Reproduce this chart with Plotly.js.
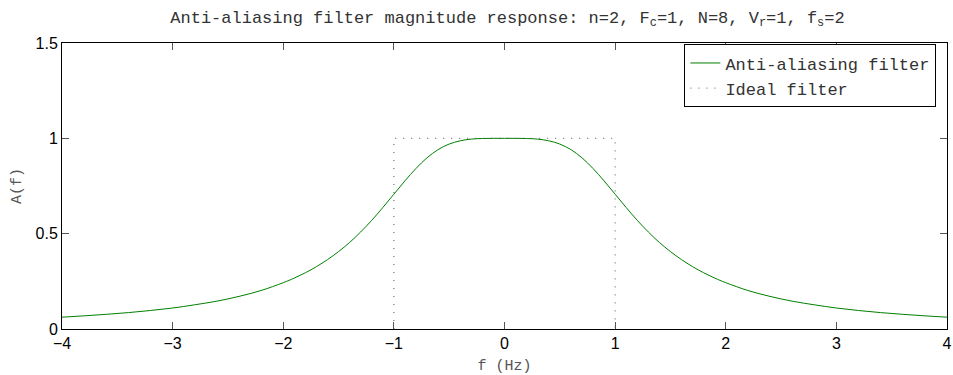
<!DOCTYPE html>
<html>
<head>
<meta charset="utf-8">
<script src="https://cdn.plot.ly/plotly-3.0.1.min.js"></script>
<style>html,body{margin:0;padding:0;background:#fff;}#chart{width:953px;height:375px;}</style>
</head>
<body>
<div id="chart"></div>
<script>
// Frequency points (Hz)
const freq = [-4.0,-3.8,-3.6,-3.4,-3.2,-3.0,-2.8,-2.6,-2.4,-2.2,-2.0,-1.9,-1.8,-1.7,-1.6,-1.5,-1.4,-1.3,-1.2,-1.1,-1.0,-0.9,-0.8,-0.7,-0.6,-0.5,-0.4,-0.3,-0.2,-0.1,0.0,0.1,0.2,0.3,0.4,0.5,0.6,0.7,0.8,0.9,1.0,1.1,1.2,1.3,1.4,1.5,1.6,1.7,1.8,1.9,2.0,2.2,2.4,2.6,2.8,3.0,3.2,3.4,3.6,3.8,4.0];
// Anti-aliasing filter magnitude
const antiAlias = [0.062,0.069,0.077,0.086,0.097,0.110,0.127,0.146,0.171,0.202,0.243,0.267,0.295,0.327,0.364,0.406,0.454,0.509,0.570,0.637,0.707,0.777,0.842,0.898,0.941,0.970,0.987,0.996,0.999,1.000,1.000,1.000,0.999,0.996,0.987,0.970,0.941,0.898,0.842,0.777,0.707,0.637,0.570,0.509,0.454,0.406,0.364,0.327,0.295,0.267,0.243,0.202,0.171,0.146,0.127,0.110,0.097,0.086,0.077,0.069,0.062];
// Ideal filter (passband edges)
const idealF = [-1,-1,1,1];
const idealA = [0,1,1,0];
const xTicks = [-4,-3,-2,-1,0,1,2,3,4];
const yTicks = [0,0.5,1,1.5];

const mono = 'Liberation Mono, Courier New, monospace';
const sans = 'Liberation Sans, Arial, Helvetica, sans-serif';

const traces = [
  {x: freq, y: antiAlias, type: 'scatter', mode: 'lines', name: 'Anti-aliasing filter',
   line: {color: '#008000', width: 1, shape: 'spline'}},
  {x: idealF, y: idealA, type: 'scatter', mode: 'lines', name: 'Ideal filter',
   line: {color: '#555555', width: 1, dash: '1px,7px'}}
];

const layout = {
  width: 953, height: 375,
  margin: {l: 62, r: 6, t: 43, b: 46},
  paper_bgcolor: '#fff', plot_bgcolor: '#fff',
  showlegend: true,
  title: {text: 'Anti-aliasing filter magnitude response: n=2, F<sub>c</sub>=1, N=8, V<sub>r</sub>=1, f<sub>s</sub>=2',
          font: {family: mono, size: 17, color: '#333'}, x: 0.5325, xanchor: 'center', y: 0.955, yanchor: 'middle'},
  xaxis: {range: [-4, 4], tickvals: xTicks, ticktext: xTicks.map(v => v < 0 ? '\u2212' + Math.abs(v) : String(v)),
          ticks: 'inside', ticklen: 7, tickcolor: '#555', mirror: 'ticks', showline: true, linecolor: '#000', linewidth: 1,
          showgrid: false, zeroline: false, tickfont: {family: sans, size: 16, color: '#000'},
          title: {text: 'f (Hz)', font: {family: mono, size: 15, color: '#555'}, standoff: 8}},
  yaxis: {range: [0, 1.5], tickvals: yTicks, ticktext: ['0','0.5','1','1.5'],
          ticks: 'inside', ticklen: 7, tickcolor: '#555', mirror: 'ticks', showline: true, linecolor: '#000', linewidth: 1,
          showgrid: false, zeroline: false, tickfont: {family: sans, size: 16, color: '#000'},
          title: {text: 'A(f)', font: {family: mono, size: 15, color: '#555'}, standoff: 10}},
  legend: {x: 0.988, xanchor: 'right', y: 0.995, yanchor: 'top', bgcolor: '#fff', bordercolor: '#000', borderwidth: 1,
           font: {family: mono, size: 17, color: '#333'}, tracegroupgap: 0, itemwidth: 30}
};

Plotly.newPlot('chart', traces, layout, {displayModeBar: false, staticPlot: true});
</script>
</body>
</html>
